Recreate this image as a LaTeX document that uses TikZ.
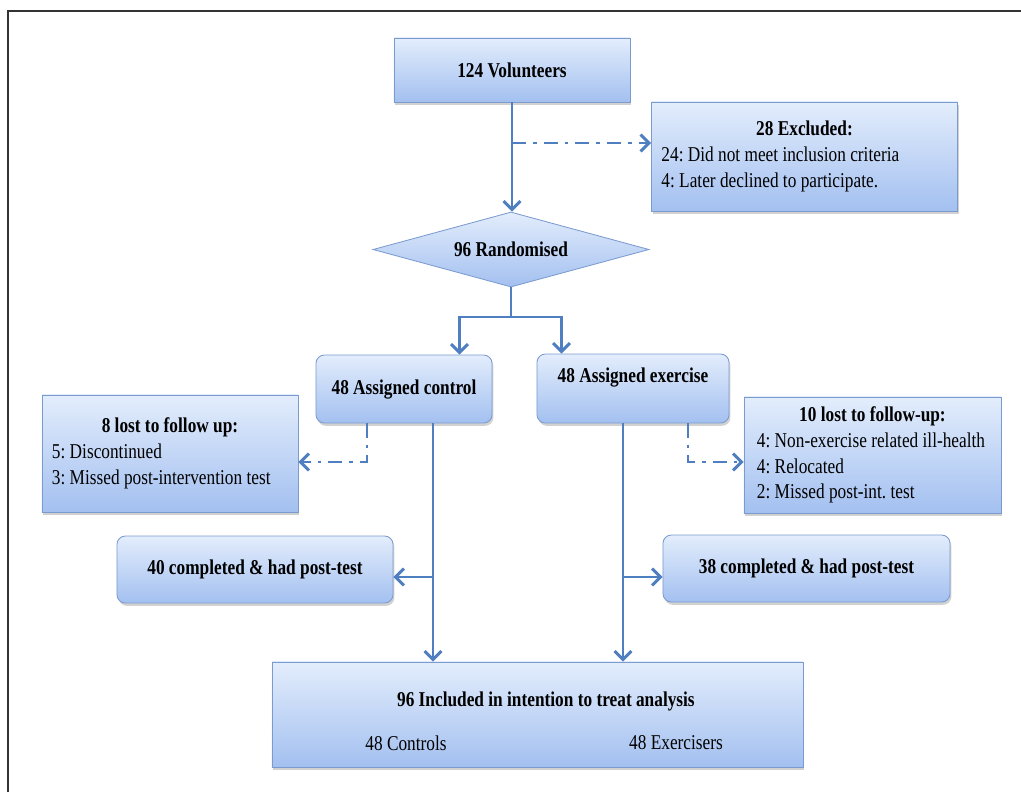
\documentclass[tikz,border=0pt]{standalone}
\usepackage{fontspec}
\setmainfont{Liberation Serif}[FakeStretch=0.82]
\usepackage{tikz}
\usetikzlibrary{shapes.geometric,arrows.meta,shadows,calc}

\definecolor{edge}{HTML}{7B9BCF}
\definecolor{topblue}{HTML}{E3EDFC}
\definecolor{botblue}{HTML}{A3C0F0}
\definecolor{linkblue}{HTML}{4F7FC0}

\begin{document}
\begin{tikzpicture}[x=0.025cm, y=-0.025cm,
	every node/.style={font=\fontsize{15pt}{18.3pt}\selectfont\frenchspacing},
	shade/.style={draw=edge, line width=0.6pt, top color=topblue, bottom color=botblue, inner sep=0pt},
	box/.style={shade, drop shadow={shadow xshift=1pt, shadow yshift=-2pt, opacity=.3, fill=black!60}},
	rbox/.style={box, rounded corners=6pt},
	link/.style={draw=linkblue, line width=2.1pt, -{Straight Barb[length=6pt,width=12pt]}},
	dashlink/.style={link, dash pattern=on 10pt off 5pt on 2.5pt off 5pt}]

	\useasboundingbox (0,0) rectangle (1021,792);
	\draw[line width=1.6pt, black!80] (8,792) -- (8,11) -- (1021,11);

	\node[box, minimum width=5.9cm, minimum height=1.6cm] (vol) at (512,70) {\textbf{124 Volunteers}};
	\node[box, minimum width=7.65cm, minimum height=2.725cm, align=left] (excl) at (804.5,156.5)
		{\makebox[7.15cm]{\textbf{28 Excluded:}}\\24: Did not meet inclusion criteria\\4: Later declined to participate.};
	\node[shade, diamond, aspect=3.68, minimum width=6.9cm, minimum height=1.875cm] (rand) at (511,249.5) {\textbf{96 Randomised}};

	\node[rbox, minimum width=4.4cm, minimum height=1.7cm] (ctrl) at (404,389) {\textbf{48 Assigned control}};
	\node[rbox, minimum width=4.8cm, minimum height=1.725cm] (exer) at (633,388.5)
		{\raisebox{7.5pt}[\height][\depth]{\textbf{48 Assigned exercise}}};

	\node[box, minimum width=6.4cm, minimum height=2.925cm, align=left] (lostc) at (170,453.5)
		{\makebox[5.9cm]{\textbf{8 lost to follow up:}}\\5: Discontinued\\3: Missed post-intervention test};
	\node[box, minimum width=6.425cm, minimum height=2.9cm, align=left] (loste) at (872.5,455)
		{\makebox[5.775cm]{\textbf{10 lost to follow-up:}}\\4: Non-exercise related ill-health\\4: Relocated\\2: Missed post-int. test};

	\node[rbox, minimum width=6.9cm, minimum height=1.675cm] (donec) at (255,569.5) {\textbf{40 completed \& had post-test}};
	\node[rbox, minimum width=7.175cm, minimum height=1.675cm] (donee) at (806.5,568.5) {\textbf{38 completed \& had post-test}};

	\node[box, minimum width=13.275cm, minimum height=2.625cm] (itt) at (537.5,714.5)
		{\hspace*{12pt}\raisebox{9pt}[\height][\depth]{\textbf{96 Included in intention to treat analysis}}};
	\node (ittc) at (406,743) {48 Controls};
	\node (itte) at (676,743) {48 Exercisers};

	% top part
	\coordinate (xsplit) at (512,143);
	\coordinate (split) at (511,317);
	\draw[link] (vol.south) -- (vol.south |- rand.north);
	\draw[dashlink] (xsplit) -- (xsplit -| excl.west);
	\draw[draw=linkblue, line width=2.1pt] (rand.south) -- (split);
	\draw[link] (split) -| ($(ctrl.north east)+(-33,0)$);
	\draw[link] (split) -| ($(exer.north west)+(25,0)$);

	% control arm
	\coordinate (cdash) at (367,462);
	\coordinate (cline) at (433,577);
	\draw[dashlink] (ctrl.south -| cdash) -- (cdash) -- (cdash -| lostc.east);
	\draw[link] (ctrl.south -| cline) -- (cline |- itt.north);
	\draw[link] (cline) -- (cline -| donec.east);

	% exercise arm
	\coordinate (edash) at (688,462);
	\coordinate (eline) at (623,577);
	\draw[dashlink] (exer.south -| edash) -- (edash) -- (edash -| loste.west);
	\draw[link] (exer.south -| eline) -- (eline |- itt.north);
	\draw[link] (eline) -- (eline -| donee.west);
\end{tikzpicture}
\end{document}
